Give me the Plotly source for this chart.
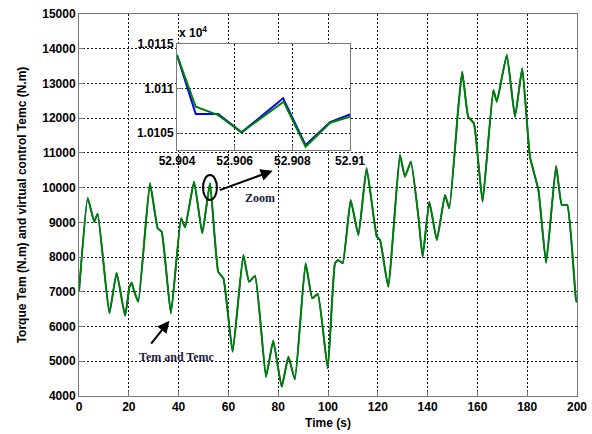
import plotly.graph_objects as go

# ---- main series (Time in s, torque in N.m) ----
time_s = [0, 3.5, 6.1, 7.5, 12.2, 15.1, 18.5, 20.3, 21.2, 22.0, 23.8, 28.5, 31.6, 33.2,
          36.9, 41.0, 42.6, 46.2, 49.5, 52.6, 55.9, 58.0, 61.7, 66.0, 68.3, 70.7, 75.1,
          78.0, 81.4, 84.1, 86.7, 91.0, 93.7, 95.9, 99.9, 102.8, 104.1, 105.9, 109.1,
          112.2, 115.5, 119.6, 120.9, 124.2, 128.9, 130.9, 133.3, 136.3, 138.0, 140.7,
          143.7, 147.0, 148.7, 152.3, 153.9, 156.3, 158.6, 160.4, 162.1, 166.4, 167.8,
          171.8, 175.1, 178.0, 181.1, 184.5, 187.6, 191.6, 193.9, 196.1, 199.6, 200]
tem = [7000, 9700, 9020, 9250, 6380, 7550, 6310, 7150, 7260, 7050, 6714, 10124, 8828, 8730,
       6380, 9116, 8857, 10170, 8684, 10124, 7578, 7388, 5274, 8059, 7290, 7454, 4554,
       5591, 4266, 5130, 4480, 7820, 6812, 6936, 4796, 7820, 7915, 7820, 9643,
       8635, 10556, 8586, 8491, 7146, 10939, 10314, 10746, 9162, 8010, 9594,
       8491, 9787, 9403, 12284, 13338, 12042, 11852, 10700, 9594, 12811, 12475,
       13819, 12042, 13436, 10890, 9931, 7837, 10622, 9499, 9499, 6763, 6700]
temc = list(tem)

# ---- zoom inset (values x 10^4) ----
zoom_t_green = [52.904, 52.90465, 52.90543, 52.90624, 52.90770, 52.90846, 52.90931, 52.910]
zoom_green = [1.011376, 1.010795, 1.010702, 1.010508, 1.010852, 1.010346, 1.010616, 1.010683]
zoom_t_blue = [52.904, 52.90465, 52.90543, 52.90624, 52.90768, 52.90846, 52.90931, 52.910]
zoom_blue = [1.011376, 1.010713, 1.010713, 1.010508, 1.010890, 1.010365, 1.010624, 1.010710]
zoom_xticks = [52.904, 52.906, 52.908, 52.910]
zoom_xlabels = ["52.904", "52.906", "52.908", "52.91"]
zoom_yticks = [1.0105, 1.011, 1.0115]
zoom_ylabels = ["1.0105", "1.011", "1.0115"]

GREEN = "#008000"
BLUE = "#0000ff"
FONT = "Arial, Liberation Sans, sans-serif"
SERIF = "Times New Roman, Liberation Serif, serif"

fig = go.Figure()
fig.add_trace(go.Scatter(x=time_s, y=temc, mode="lines",
                         line=dict(color=BLUE, width=1.5, shape="spline", smoothing=0.4),
                         xaxis="x", yaxis="y", showlegend=False))
fig.add_trace(go.Scatter(x=time_s, y=tem, mode="lines",
                         line=dict(color=GREEN, width=2, shape="spline", smoothing=0.4),
                         xaxis="x", yaxis="y", showlegend=False))
fig.add_trace(go.Scatter(x=zoom_t_blue, y=zoom_blue, mode="lines", line=dict(color=BLUE, width=2),
                         xaxis="x2", yaxis="y2", showlegend=False))
fig.add_trace(go.Scatter(x=zoom_t_green, y=zoom_green, mode="lines", line=dict(color=GREEN, width=2),
                         xaxis="x2", yaxis="y2", showlegend=False))

grid = dict(showgrid=True, gridcolor="#111111", griddash="2px,2px", gridwidth=1,
            showline=True, linecolor="#777777", linewidth=1, mirror=True,
            ticks="inside", ticklen=5, tickcolor="#777777", zeroline=False,
            automargin=False,
            tickfont=dict(family=FONT, size=12, color="black", weight="bold"))

fig.update_layout(
    width=592, height=434,
    margin=dict(l=79, r=15, t=14, b=38),
    paper_bgcolor="white", plot_bgcolor="white",
    xaxis=dict(domain=[0, 1], range=[0, 200], dtick=20, tickformat="d", **grid,
               title=dict(text="Time (s)", standoff=5,
                          font=dict(family=FONT, size=12, color="black", weight="bold"))),
    yaxis=dict(domain=[0, 1], range=[4000, 15000], dtick=1000, tickformat="d", **grid,
               title=dict(text="Torque Tem (N.m) and virtual control Temc (N.m)", standoff=13,
                          font=dict(family=FONT, size=12, color="black", weight="bold"))),
    xaxis2=dict(domain=[0.1968, 0.5442], range=[52.904, 52.910], anchor="y2",
                tickvals=zoom_xticks, ticktext=zoom_xlabels, **grid),
    yaxis2=dict(domain=[0.644, 0.9215], range=[1.01031, 1.0115], anchor="x2",
                tickvals=zoom_yticks, ticktext=zoom_ylabels, **grid),
)

# annotations
fig.add_annotation(xref="paper", yref="paper", x=0.1968, y=0.9215, yshift=2,
                   text="x 10<sup>4</sup>", showarrow=False, xanchor="left", yanchor="bottom",
                   font=dict(family=FONT, size=12, color="black", weight="bold"))
fig.add_shape(type="circle", xref="x", yref="y", x0=49.8, x1=55.4, y0=9643, y1=10363,
              line=dict(color="black", width=2))
fig.add_annotation(xref="x", yref="y", axref="x", ayref="y", x=77.8, y=10487, ax=55.9, ay=9911,
                   text="", showarrow=True, arrowhead=2, arrowsize=1.2, arrowwidth=2,
                   arrowcolor="black")
fig.add_annotation(xref="x", yref="y", x=72.7, y=9709, text="Zoom", showarrow=False,
                   font=dict(family=SERIF, size=12, color="#1c1c3c", weight="bold"))
fig.add_annotation(xref="x", yref="y", axref="x", ayref="y", x=36.3, y=6167, ax=28.5, ay=5467,
                   text="", showarrow=True, arrowhead=2, arrowsize=1.2, arrowwidth=2,
                   arrowcolor="black")
fig.add_annotation(xref="x", yref="y", x=39.2, y=5130, text="Tem and Temc", showarrow=False,
                   font=dict(family=SERIF, size=12, color="#1c1c3c", weight="bold"))

# remove the browser's default 8px body margin so the figure fills the window exactly
fig.write_html("out.html",
               config={"displayModeBar": False},
               post_script="document.body.style.margin='0';document.body.style.overflow='hidden';")
